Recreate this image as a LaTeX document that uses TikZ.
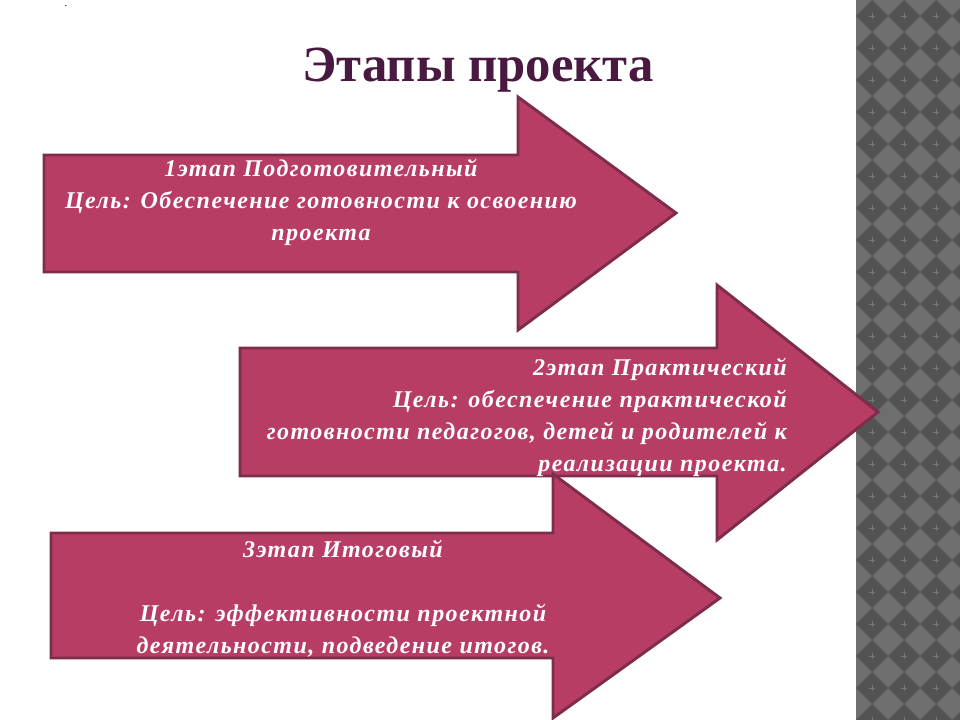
\documentclass[tikz,border=0pt]{standalone}
\usepackage{fontspec}
\setmainfont{Liberation Serif}
\newfontfamily\stagefont[LetterSpace=6]{Liberation Serif}
\definecolor{arrfill}{HTML}{B83D65}
\definecolor{arrline}{HTML}{7D2C4C}
\definecolor{titlecol}{HTML}{4A1942}
\definecolor{chkdark}{HTML}{535353}
\definecolor{chklight}{HTML}{6E6E6E}
\definecolor{chkmark}{HTML}{767676}
\begin{document}
\begin{tikzpicture}[x=0.75pt,y=-0.75pt,
  arrowshape/.style={fill=arrfill,draw=arrline,line width=2.2pt,line join=miter},
  stagetext/.style={text=white,font=\stagefont\fontsize{18}{24}\selectfont\bfseries\itshape,inner sep=0pt},
  titletext/.style={text=titlecol,font=\fontsize{38}{40}\selectfont\bfseries}]
\useasboundingbox (0,0) rectangle (960,720);
\fill[white] (0,0) rectangle (960,720);
% checkered band
\begin{scope}
\clip (856,0) rectangle (960,720);
\fill[chklight] (856,0) rectangle (960,720);
\foreach \i in {-1,...,3}{
  \foreach \j in {-1,...,23}{
    \fill[chkdark] ({872+32*\i},{16+32*\j-16}) -- ++(16,16) -- ++(-16,16) -- ++(-16,-16) -- cycle;
    \draw[chkmark,line width=0.3pt] ({872+32*\i-3},{16+32*\j}) -- ++(6,0) ({872+32*\i},{16+32*\j-3}) -- ++(0,6);
  }
}
\end{scope}
\node[font=\fontsize{8}{8}\selectfont] (dot) at (66,6) {.};
\node[titletext] (title) at (478,70) {Этапы проекта};
% arrow 1
\draw[arrowshape] (44,155) -- (518,155) -- (518,97) -- (676,213) -- (518,330) -- (518,272) -- (44,272) -- cycle;
\node[stagetext,align=center] (t1) at (321,202) {1этап Подготовительный\\Цель: Обеспечение готовности к освоению\\проекта};
% arrow 2
\draw[arrowshape] (240,348) -- (717,348) -- (717,285) -- (878,412) -- (717,540) -- (717,476) -- (240,476) -- cycle;
\node[stagetext,align=right,anchor=east] (t2) at (787,417) {2этап Практический\\Цель: обеспечение практической\\готовности педагогов, детей и родителей к\\реализации проекта.};
% arrow 3
\draw[arrowshape] (51,533) -- (553,533) -- (553,474) -- (720,598) -- (553,718) -- (553,658) -- (51,658) -- cycle;
\node[stagetext,align=center] (t3) at (343,599) {3этап Итоговый\\[24pt]Цель: эффективности проектной\\деятельности, подведение итогов.};
\end{tikzpicture}
\end{document}
